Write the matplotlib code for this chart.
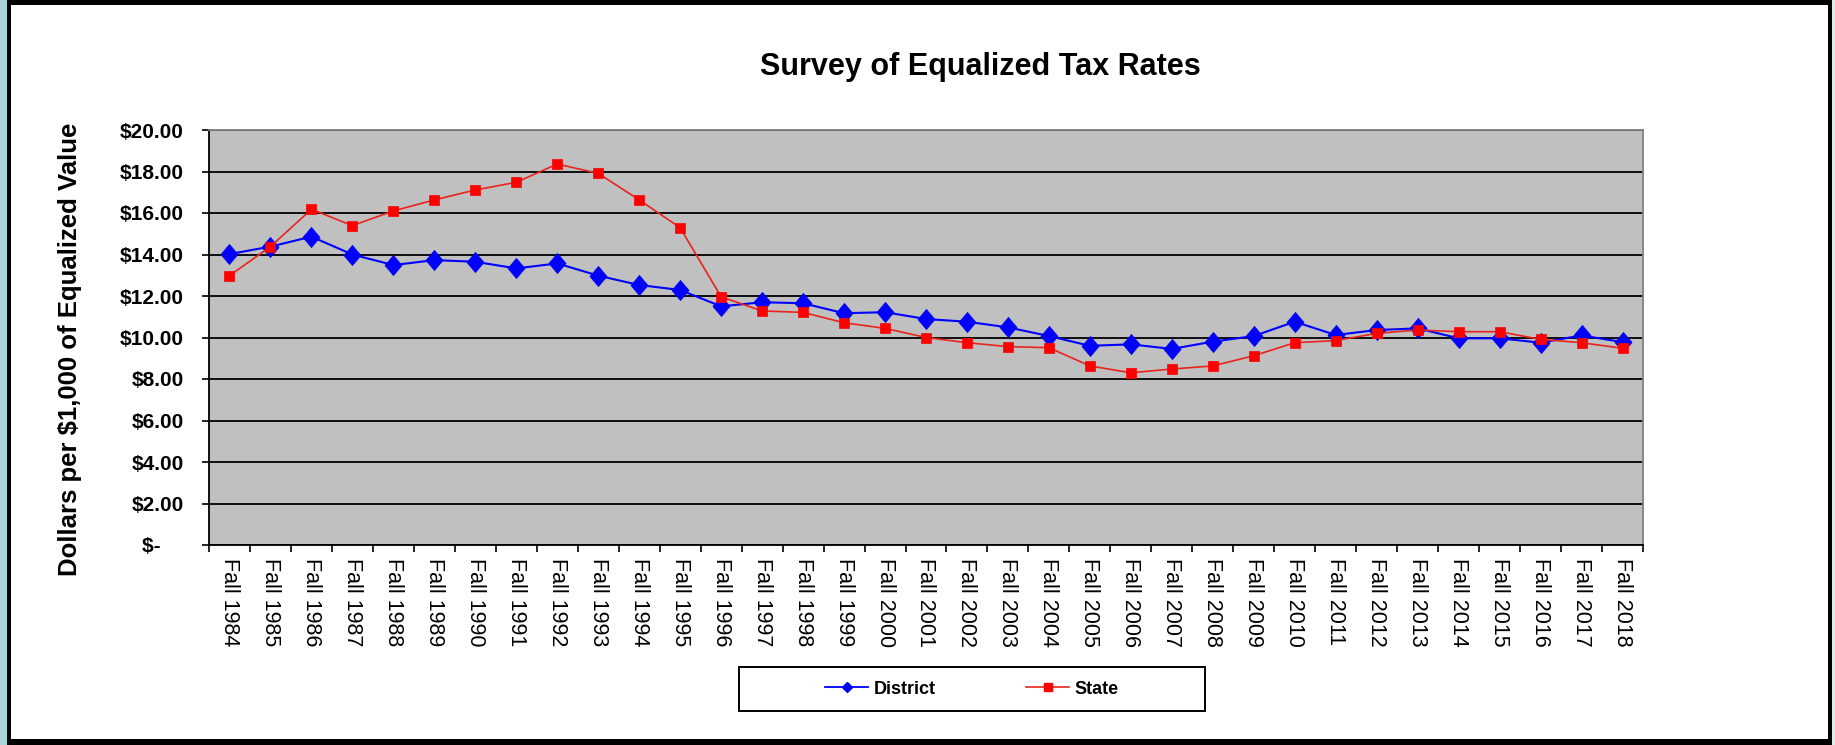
import matplotlib
matplotlib.use("Agg")
import matplotlib.pyplot as plt
from matplotlib.patches import Rectangle
from matplotlib.lines import Line2D
from matplotlib.ticker import FixedLocator, FuncFormatter

categories = ["Fall 1984", "Fall 1985", "Fall 1986", "Fall 1987", "Fall 1988", "Fall 1989",
              "Fall 1990", "Fall 1991", "Fall 1992", "Fall 1993", "Fall 1994", "Fall 1995",
              "Fall 1996", "Fall 1997", "Fall 1998", "Fall 1999", "Fall 2000", "Fall 2001",
              "Fall 2002", "Fall 2003", "Fall 2004", "Fall 2005", "Fall 2006", "Fall 2007",
              "Fall 2008", "Fall 2009", "Fall 2010", "Fall 2011", "Fall 2012", "Fall 2013",
              "Fall 2014", "Fall 2015", "Fall 2016", "Fall 2017", "Fall 2018"]

district = [14.02, 14.38, 14.86, 14.00, 13.49, 13.73, 13.65, 13.33, 13.57, 12.98, 12.53, 12.29,
            11.50, 11.70, 11.65, 11.17, 11.22, 10.89, 10.76, 10.49, 10.07, 9.60, 9.67, 9.45,
            9.80, 10.07, 10.76, 10.12, 10.36, 10.44, 9.96, 9.96, 9.75, 10.10, 9.78]

state = [12.98, 14.38, 16.18, 15.39, 16.10, 16.63, 17.11, 17.48, 18.36, 17.91, 16.63, 15.29,
         11.96, 11.28, 11.21, 10.71, 10.44, 10.00, 9.75, 9.56, 9.51, 8.63, 8.30, 8.48,
         8.63, 9.12, 9.75, 9.85, 10.20, 10.36, 10.28, 10.28, 9.91, 9.75, 9.48]

y_ticks = [0, 2, 4, 6, 8, 10, 12, 14, 16, 18, 20]

title = "Survey of Equalized Tax Rates"
y_label = "Dollars per $1,000 of Equalized Value"
series_names = ["District", "State"]

plt.rcParams['font.family'] = ['Liberation Sans', 'DejaVu Sans']

W, H = 1835, 745
fig = plt.figure(figsize=(W / 100, H / 100), dpi=100, facecolor="white")


def fx(px):
    return px / W


def fy(py):
    return 1 - py / H


def px_rect(x0, y0, x1, y1, color, **kw):
    r = Rectangle((fx(x0), fy(y1)), fx(x1) - fx(x0), fy(y0) - fy(y1),
                  transform=fig.transFigure, facecolor=color, edgecolor="none", **kw)
    fig.add_artist(r)
    return r


# plot area
ax = fig.add_axes([fx(209), fy(545), fx(1643) - fx(209), fy(130) - fy(545)])
ax.set_facecolor("#C0C0C0")

x = list(range(len(categories)))
diamond = [(0, 1), (0.85, 0), (0, -1), (-0.85, 0), (0, 1)]
ax.plot(x, district, color="#0000FF", lw=1.5, marker=diamond, ms=14.5,
        markerfacecolor="#0000FF", markeredgecolor="#0000FF", mew=0.5, zorder=3,
        clip_on=False)
ax.plot(x, state, color="#E8241C", lw=1.2, marker="s", ms=7.6,
        markerfacecolor="#FF0000", markeredgecolor="#FF0000", mew=0.5, zorder=4,
        clip_on=False)

ax.set_xlim(-0.5, len(categories) - 0.5)
ax.set_ylim(0, 20)

# y axis
ax.yaxis.set_major_locator(FixedLocator(y_ticks))


def dollar(v, pos):
    if abs(v) < 1e-9:
        return "$-    "
    return "${:,.2f}".format(v)


ax.yaxis.set_major_formatter(FuncFormatter(dollar))
ax.tick_params(axis="y", which="major", direction="out", length=5, width=1.2,
               color="black", pad=13, labelsize=15)
for lab in ax.get_yticklabels():
    lab.set_fontweight("bold")

ax.grid(axis="y", color="black", lw=1.3)
ax.set_axisbelow(True)

# x axis: ticks between categories, labels at centers
ax.xaxis.set_major_locator(FixedLocator([i - 0.5 for i in range(len(categories) + 1)]))
ax.xaxis.set_minor_locator(FixedLocator(x))
ax.xaxis.set_major_formatter(FuncFormatter(lambda v, p: ""))
ax.xaxis.set_minor_formatter(FuncFormatter(lambda v, p: categories[int(round(v))]
                                           if 0 <= int(round(v)) < len(categories) else ""))
ax.tick_params(axis="x", which="major", direction="out", length=5, width=1.2, color="black")
ax.tick_params(axis="x", which="minor", length=0, pad=9, labelsize=15.5, labelrotation=270)
for lab in ax.get_xticklabels(minor=True):
    lab.set_va("top")
    lab.set_ha("center")

for side in ["left", "bottom"]:
    ax.spines[side].set_color("black")
    ax.spines[side].set_linewidth(1.3)
for side in ["top", "right"]:
    ax.spines[side].set_color("#808080")
    ax.spines[side].set_linewidth(1.3)

# title and y label
fig.text(fx(980), fy(75), title, ha="center", va="baseline", fontsize=22,
         fontweight="bold")
fig.text(fx(70), fy(349), y_label, ha="center", va="center", rotation=90,
         fontsize=18.5, fontweight="bold")

# legend
handles = [Line2D([], [], color="#0000FF", lw=1.3, marker="D", ms=5),
           Line2D([], [], color="#E8241C", lw=1.2, marker="s", ms=6,
                  markerfacecolor="#FF0000", markeredgecolor="#FF0000")]
leg = fig.legend(handles, series_names, loc="center", bbox_to_anchor=(fx(972), fy(689)),
                 ncol=2, frameon=False, handlelength=2.4, handletextpad=0.3,
                 columnspacing=5.0, prop={"weight": "bold", "size": 13})
box = Rectangle((fx(739), fy(711)), fx(1205) - fx(739), fy(667) - fy(711),
                transform=fig.transFigure, facecolor="none", edgecolor="black", lw=1.4)
fig.add_artist(box)

# outer frame
px_rect(0, 0, 7, H, "#A9D3DB")
px_rect(1832, 0, W, H, "#DCEFE7")
px_rect(7, 0, 1832, 5, "black")
px_rect(7, 739, 1832, H, "black")
px_rect(7, 0, 11, H, "black")
px_rect(1828, 0, 1832, H, "black")

fig.savefig("out.png", dpi=100, facecolor="white")
